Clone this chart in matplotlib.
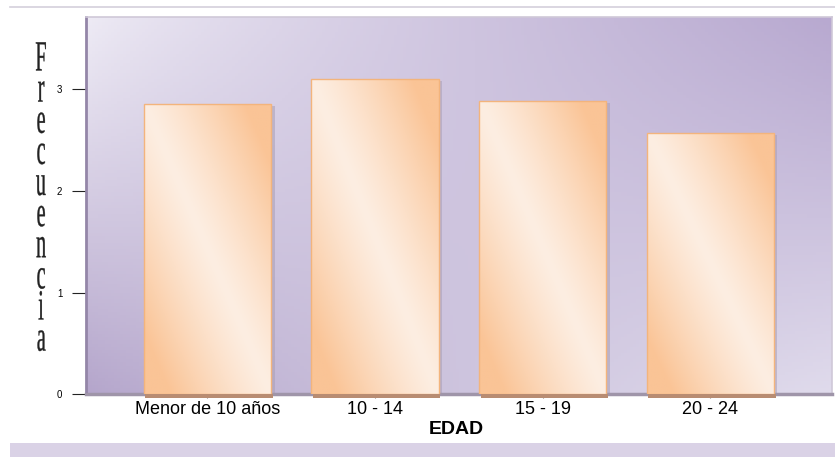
import numpy as np
import matplotlib
matplotlib.use("Agg")
import matplotlib.pyplot as plt
from matplotlib.patches import Rectangle
from matplotlib.patheffects import AbstractPathEffect
from matplotlib.transforms import Affine2D

# data
categorias = ["Menor de 10 años", "10 - 14", "15 - 19", "20 - 24"]
frecuencia = [2.85, 3.10, 2.88, 2.57]
y_ticks = [0, 1, 2, 3]
y_label = "Frecuencia"
x_label = "EDAD"


class Condensed(AbstractPathEffect):
    """squeeze glyphs horizontally around the text centre (narrow serif look)"""
    def __init__(self, sx=0.45, lw=0.3):
        super().__init__()
        self.sx = sx
        self.lw = lw

    def draw_path(self, renderer, gc, tpath, affine, rgbFace=None):
        ext = tpath.get_extents()
        cx = (ext.x0 + ext.x1) / 2
        t = Affine2D().translate(-cx, 0).scale(self.sx, 1).translate(cx, 0) + affine
        gc0 = renderer.new_gc()
        gc0.copy_properties(gc)
        gc0.set_linewidth(self.lw)
        gc0.set_foreground(rgbFace)
        renderer.draw_path(gc0, tpath, t, rgbFace)
        gc0.restore()


fig = plt.figure(figsize=(8.35, 4.57), dpi=100)
ax = fig.add_axes([0.103, 0.137, 0.893, 0.826])

x = np.arange(len(categorias))
ax.set_xlim(-0.725, len(categorias) - 1 + 0.725)
ax.set_ylim(0, 3.71)

# background gradient of the plot area (bilinear between corner colours)
tl = np.array([238, 235, 245]) / 255
tr = np.array([184, 169, 208]) / 255
bl = np.array([180, 165, 203]) / 255
br = np.array([224, 219, 236]) / 255
ny, nx = 120, 240
u = np.linspace(0, 1, nx)[None, :, None]
v = np.linspace(0, 1, ny)[:, None, None]  # 0 = top
uu = u ** 0.8
vv = v ** 1.1
bg = (1 - uu) * (1 - vv) * tl + uu * (1 - vv) * tr + (1 - uu) * vv * bl + uu * vv * br
ax.imshow(bg, extent=[0, 1, 0, 1], transform=ax.transAxes, aspect="auto", zorder=0)

# peach gradient for the bars: light diagonal band, darker corners
light = np.array([253, 238, 226]) / 255
dark = np.array([250, 196, 150]) / 255
bu = np.linspace(0, 1, 60)[None, :]
bv = np.linspace(1, 0, 150)[:, None]
d = np.abs(bu + bv - 1.0)
d = np.clip(d * 1.25, 0, 1) ** 1.2
grad = (1 - d[..., None]) * light + d[..., None] * dark

width = 0.76
bars = ax.bar(x, frecuencia, width=width, color="none", edgecolor="none", zorder=3)
for b in bars:
    x0, y0 = b.get_x(), b.get_y()
    w, h = b.get_width(), b.get_height()
    # soft shadow to the right and a brown foot below
    ax.add_patch(Rectangle((x0 + 0.02, y0 - 0.02), w, h, facecolor="#a99fb6",
                           edgecolor="none", alpha=0.55, zorder=2))
    ax.add_patch(Rectangle((x0 + 0.01, y0 - 0.035), w, 0.035, facecolor="#b88c72",
                           edgecolor="none", zorder=5, clip_on=False))
    im = ax.imshow(grad, extent=[x0, x0 + w, y0, y0 + h], aspect="auto", zorder=3)
    im.set_clip_path(b)
    ax.add_patch(Rectangle((x0, y0), w, h, facecolor="none", edgecolor="#f3b47c",
                           linewidth=1.0, zorder=4))

# plot area frame with a darker edge on the left/bottom
for s in ["top", "right"]:
    ax.spines[s].set_color("#cfc8d8")
    ax.spines[s].set_linewidth(1.2)
ax.spines["left"].set_color("#9486a8")
ax.spines["left"].set_linewidth(2)
ax.spines["bottom"].set_color("#9f95a9")
ax.spines["bottom"].set_linewidth(2.5)

ax.set_yticks(y_ticks)
ax.set_yticklabels([str(t) for t in y_ticks], fontsize=7, family="Liberation Sans")
ax.tick_params(axis="y", length=10, width=0.8, color="#222222", pad=7)
ax.set_xticks(x)
ax.set_xticklabels(categorias, fontsize=13, family="Liberation Sans")
ax.tick_params(axis="x", length=3, width=0.8, color="#8a7f7a", pad=2)

# axis titles
fig.text(0.546, 0.061, x_label, ha="center", va="center", fontsize=14,
         fontweight="bold", family="Liberation Sans")
# vertical stacked letters, one text
fig.text(41 / 835, 1 - 41 / 457, "\n".join(y_label), ha="center", va="top",
         multialignment="center", fontsize=31, linespacing=0.75,
         family="Liberation Serif", color="#222222",
         path_effects=[Condensed(0.47, 0.25)])

# decorative line at the top and band at the bottom
fig.add_artist(plt.Line2D([10 / 835, 1], [1 - 7 / 457] * 2, color="#d4d0dc",
                          linewidth=1.2, transform=fig.transFigure))
fig.add_artist(Rectangle((10 / 835, 0), 1, 14 / 457, facecolor="#dad2e6",
                         edgecolor="none", transform=fig.transFigure))

fig.savefig("out.png", dpi=100)
